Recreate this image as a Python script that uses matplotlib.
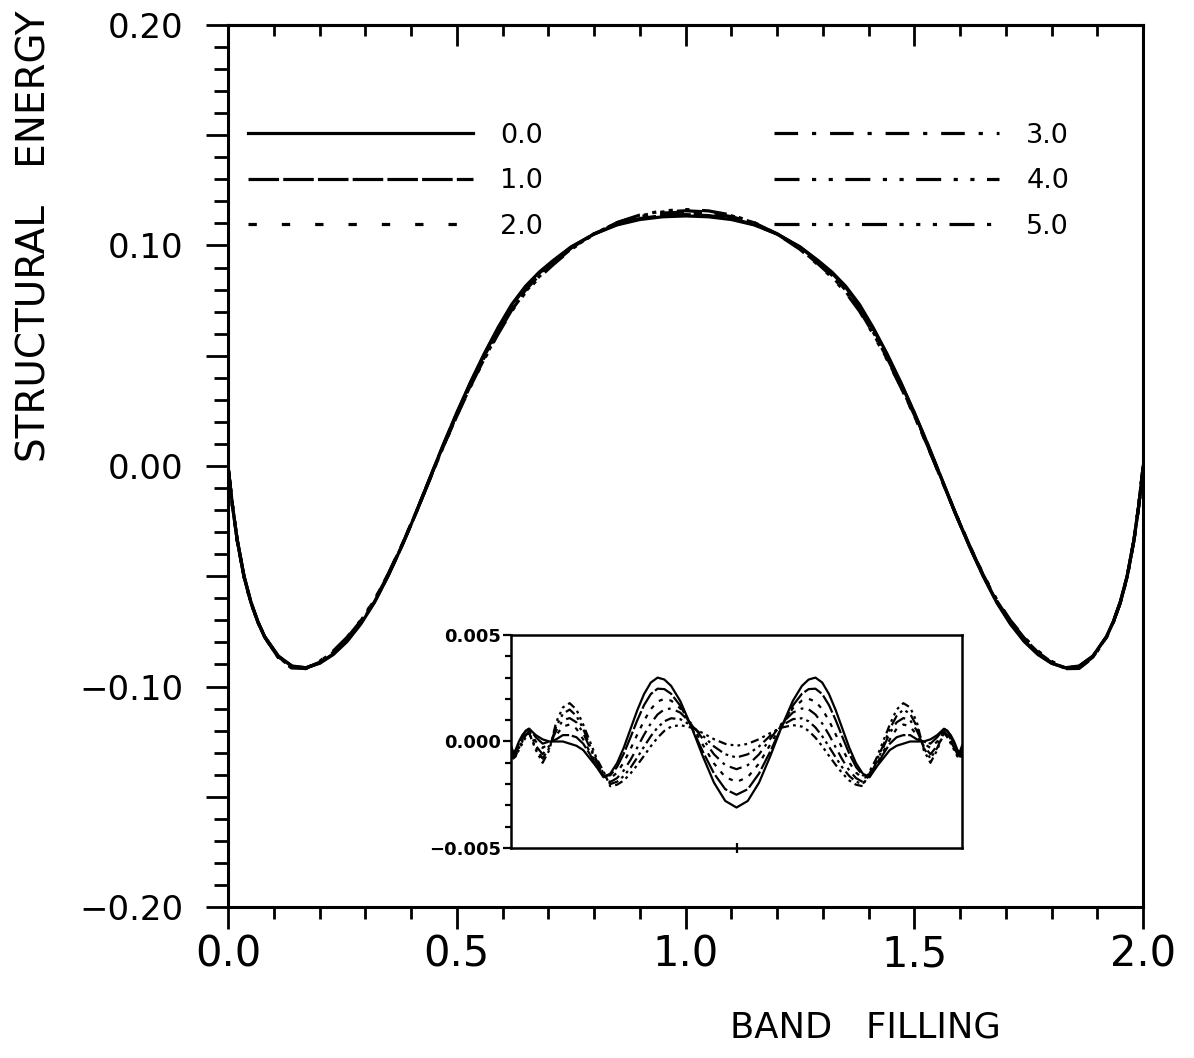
import numpy as np
import matplotlib
matplotlib.use("Agg")
import matplotlib.pyplot as plt
from matplotlib.ticker import MultipleLocator, FixedLocator, FuncFormatter, NullFormatter

plt.rcParams['font.family'] = ['DejaVu Sans']
plt.rcParams['lines.scale_dashes'] = False

# ---------------- data ----------------
band_filling = [0.0, 0.01, 0.02, 0.035, 0.05, 0.065, 0.08, 0.11, 0.14, 0.17, 0.20, 0.23, 0.26, 0.29,
                0.32, 0.35, 0.38, 0.41, 0.44, 0.47, 0.50, 0.53, 0.56, 0.59, 0.62, 0.65, 0.68, 0.71,
                0.75, 0.80, 0.85, 0.90, 0.95, 1.00,
                1.05, 1.10, 1.15, 1.20, 1.25, 1.29, 1.32, 1.35, 1.38, 1.41, 1.44, 1.47, 1.50, 1.53,
                1.56, 1.59, 1.62, 1.65, 1.68, 1.71, 1.74, 1.77, 1.80, 1.83, 1.86, 1.89, 1.92, 1.935,
                1.95, 1.965, 1.98, 1.99, 2.00]

# common structural energy curve (main panel)
base_energy = [0.000, -0.018, -0.033, -0.050, -0.062, -0.071, -0.078, -0.0865, -0.0908, -0.0915,
               -0.0895, -0.0855, -0.0795, -0.0715, -0.0615, -0.0490, -0.0350, -0.0200, -0.0045,
               0.0105, 0.0245, 0.0375, 0.0495, 0.0605, 0.0705, 0.0785, 0.0850, 0.0905, 0.0975,
               0.1045, 0.1100, 0.1137, 0.1158, 0.1165,
               0.1158, 0.1137, 0.1100, 0.1045, 0.0975, 0.0905, 0.0850, 0.0785, 0.0705, 0.0605,
               0.0495, 0.0375, 0.0245, 0.0105, -0.0045, -0.0200, -0.0350, -0.0490, -0.0615,
               -0.0715, -0.0795, -0.0855, -0.0895, -0.0915, -0.0908, -0.0865, -0.078, -0.071,
               -0.062, -0.050, -0.033, -0.018, 0.000]

# differences shown in the inset (units of 1e-3)
diff_0 = [-0.2, -0.5, -0.4, 0.0, 0.3, 0.5, 0.6, 0.3, 0.1, 0.0, 0.0, 0.0, -0.1, -0.2, -0.4, -0.8, -1.2,
          -1.68, -1.51, -1.02, -0.29, 0.59, 1.47, 2.23, 2.77, 3.00, 2.91, 2.61, 1.91, 0.69, -0.68,
          -1.93, -2.79, -3.10,
          -2.79, -1.93, -0.68, 0.69, 1.91, 2.61, 2.91, 3.00, 2.77, 2.23, 1.47, 0.59, -0.29, -1.02,
          -1.51, -1.68, -1.2, -0.8, -0.4, -0.2, -0.1, 0.0, 0.0, 0.0, 0.1, 0.3, 0.6, 0.5, 0.3, 0.0,
          -0.4, -0.5, -0.2]
diff_1 = [-0.3, -0.6, -0.5, -0.1, 0.2, 0.5, 0.6, 0.2, -0.1, 0.0, 0.1, 0.3, 0.3, 0.2, -0.1, -0.6, -1.2,
          -1.6, -1.59, -1.20, -0.57, 0.20, 1.00, 1.71, 2.23, 2.48, 2.46, 2.24, 1.69, 0.69, -0.46,
          -1.50, -2.24, -2.50,
          -2.24, -1.50, -0.46, 0.69, 1.69, 2.24, 2.46, 2.48, 2.23, 1.71, 1.00, 0.20, -0.57, -1.20,
          -1.59, -1.6, -1.2, -0.6, -0.1, 0.2, 0.3, 0.3, 0.1, 0.0, -0.1, 0.2, 0.6, 0.5, 0.2, -0.1,
          -0.5, -0.6, -0.3]
diff_2 = [-0.4, -0.6, -0.6, -0.2, 0.1, 0.4, 0.5, 0.0, -0.3, -0.1, 0.3, 0.7, 0.8, 0.6, 0.1, -0.5, -1.1,
          -1.6, -1.74, -1.46, -0.98, -0.35, 0.33, 0.98, 1.52, 1.88, 2.00, 1.92, 1.56, 0.80, -0.14,
          -1.03, -1.67, -1.90,
          -1.67, -1.03, -0.14, 0.80, 1.56, 1.92, 2.00, 1.88, 1.52, 0.98, 0.33, -0.35, -0.98, -1.46,
          -1.74, -1.6, -1.1, -0.5, 0.1, 0.6, 0.8, 0.7, 0.3, -0.1, -0.3, 0.0, 0.5, 0.4, 0.1, -0.2,
          -0.6, -0.6, -0.4]
diff_3 = [-0.5, -0.7, -0.6, -0.3, 0.0, 0.3, 0.5, -0.2, -0.6, -0.2, 0.5, 1.0, 1.1, 0.9, 0.4, -0.3, -1.0,
          -1.6, -1.90, -1.72, -1.36, -0.86, -0.28, 0.32, 0.85, 1.27, 1.51, 1.55, 1.36, 0.84, 0.13,
          -0.60, -1.11, -1.30,
          -1.11, -0.60, 0.13, 0.84, 1.36, 1.55, 1.51, 1.27, 0.85, 0.32, -0.28, -0.86, -1.36, -1.72,
          -1.90, -1.6, -1.0, -0.3, 0.4, 0.9, 1.1, 1.0, 0.5, -0.2, -0.6, -0.2, 0.5, 0.3, 0.0, -0.3,
          -0.6, -0.7, -0.5]
diff_4 = [-0.5, -0.7, -0.7, -0.3, 0.0, 0.3, 0.4, -0.3, -0.8, -0.3, 0.7, 1.3, 1.5, 1.2, 0.6, -0.2, -0.9,
          -1.5, -2.00, -1.89, -1.62, -1.23, -0.75, -0.24, 0.25, 0.66, 0.95, 1.09, 1.05, 0.75, 0.28,
          -0.23, -0.60, -0.75,
          -0.60, -0.23, 0.28, 0.75, 1.05, 1.09, 0.95, 0.66, 0.25, -0.24, -0.75, -1.23, -1.62, -1.89,
          -2.00, -1.5, -0.9, -0.2, 0.6, 1.2, 1.5, 1.3, 0.7, -0.3, -0.8, -0.3, 0.4, 0.3, 0.0, -0.3,
          -0.7, -0.7, -0.5]
diff_5 = [-0.6, -0.8, -0.7, -0.4, -0.1, 0.2, 0.4, -0.4, -1.0, -0.4, 0.9, 1.6, 1.8, 1.5, 0.8, 0.0, -0.8,
          -1.4, -2.10, -2.03, -1.83, -1.50, -1.10, -0.67, -0.22, 0.18, 0.50, 0.70, 0.77, 0.65, 0.40,
          0.11, -0.11, -0.20,
          -0.11, 0.11, 0.40, 0.65, 0.77, 0.70, 0.50, 0.18, -0.22, -0.67, -1.10, -1.50, -1.83, -2.03,
          -2.10, -1.4, -0.8, 0.0, 0.8, 1.5, 1.8, 1.6, 0.9, -0.4, -1.0, -0.4, 0.4, 0.2, -0.1, -0.4,
          -0.7, -0.8, -0.6]

series_labels = ['0.0', '1.0', '2.0', '3.0', '4.0', '5.0']
diffs = [diff_0, diff_1, diff_2, diff_3, diff_4, diff_5]

# ---------------- styles ----------------
main_styles = ['-',
               (0, (22, 3)),
               (0, (6, 18)),
               (0, (17, 10, 3, 10)),
               (0, (18, 9, 3, 9, 3, 9)),
               (0, (18, 9, 3, 9, 3, 9, 3, 9))]
inset_styles = ['-',
                (0, (14, 2)),
                (0, (3, 5)),
                (0, (9, 4, 2, 4)),
                (0, (8, 3, 2, 3, 2, 3)),
                (0, (6, 3, 2, 3, 2, 3, 2, 3))]

x = np.array(band_filling)
base = np.array(base_energy)

fig = plt.figure(figsize=(11.94, 10.58), dpi=100)
ax = fig.add_axes([0.191, 0.1427, 0.7664, 0.8337])

for d, ls, lab in zip(diffs, main_styles, series_labels):
    ax.plot(x, base + np.array(d) * 1e-3, color='black', lw=2.3, linestyle=ls, label=lab)

ax.set_xlim(0, 2)
ax.set_ylim(-0.2, 0.2)

for side in ['left', 'bottom', 'top', 'right']:
    ax.spines[side].set_linewidth(2.2)

# x axis (bottom: outward ticks)
ax.xaxis.set_major_locator(MultipleLocator(0.5))
ax.xaxis.set_minor_locator(MultipleLocator(0.1))
ax.xaxis.set_major_formatter(FuncFormatter(lambda v, p: f'{v:.1f}'))
ax.tick_params(axis='x', which='major', direction='out', length=16, width=2, labelsize=30, pad=3,
               top=False)
ax.tick_params(axis='x', which='minor', direction='out', length=8.5, width=2, top=False)

# y axis (left: outward ticks)
def yfmt(v, p):
    k = v / 0.1
    if abs(k - round(k)) < 1e-6:
        return f'{v:.2f}'.replace('-', '\u2212') if abs(v) > 1e-9 else '0.00'
    return ''
ax.yaxis.set_major_locator(MultipleLocator(0.05))
ax.yaxis.set_minor_locator(MultipleLocator(0.01))
ax.yaxis.set_major_formatter(FuncFormatter(yfmt))
ax.tick_params(axis='y', which='major', direction='out', length=16, width=2, labelsize=24.5, pad=16,
               right=False)
ax.tick_params(axis='y', which='minor', direction='out', length=10, width=2, right=False)

# top: inward ticks
sec = ax.secondary_xaxis('top')
sec.xaxis.set_major_locator(MultipleLocator(0.5))
sec.xaxis.set_minor_locator(MultipleLocator(0.1))
sec.tick_params(axis='x', which='major', direction='in', length=15, width=2, labeltop=False)
sec.tick_params(axis='x', which='minor', direction='in', length=8, width=2)
sec.spines['top'].set_linewidth(2.2)

ax.set_xlabel('BAND   FILLING', fontsize=25.5, va='center', ha='center')
ax.xaxis.set_label_coords(0.697, -0.137)
ax.set_ylabel('STRUCTURAL   ENERGY', fontsize=28, va='center', ha='center')
ax.yaxis.set_label_coords(-0.211, 0.76)

ax.legend(ncol=2, loc='upper left', bbox_to_anchor=(0.0219, 0.889), frameon=False, fontsize=19.5,
          handlelength=8.3, handletextpad=1.0, columnspacing=8.55, labelspacing=0.72,
          borderpad=0, borderaxespad=0)

# ---------------- inset ----------------
axin = fig.add_axes([0.428, 0.1985, 0.3777, 0.2013])
for d, ls in zip(diffs, inset_styles):
    axin.plot(x, np.array(d) * 1e-3, color='black', lw=1.6, linestyle=ls)
axin.set_xlim(0, 2)
axin.set_ylim(-0.005, 0.005)
for side in ['left', 'bottom', 'top', 'right']:
    axin.spines[side].set_linewidth(1.8)
axin.yaxis.set_major_locator(FixedLocator([-0.005, 0.0, 0.005]))
axin.yaxis.set_minor_locator(MultipleLocator(0.001))
axin.yaxis.set_major_formatter(FuncFormatter(lambda v, p: f'{v:.3f}'.replace('-', '\u2212')
                                             if abs(v) > 1e-9 else '0.000'))
axin.tick_params(axis='y', which='major', direction='out', length=6, width=1.6, labelsize=13,
                 pad=1, right=False)
axin.tick_params(axis='y', which='minor', direction='out', length=4, width=1.6, right=False)
for t in axin.get_yticklabels():
    t.set_fontweight('bold')
axin.xaxis.set_major_locator(FixedLocator([1.0]))
axin.xaxis.set_minor_locator(FixedLocator([]))
axin.xaxis.set_major_formatter(NullFormatter())
axin.tick_params(axis='x', which='major', direction='inout', length=7, width=1.6, top=False)

fig.savefig('out.png', dpi=100)
